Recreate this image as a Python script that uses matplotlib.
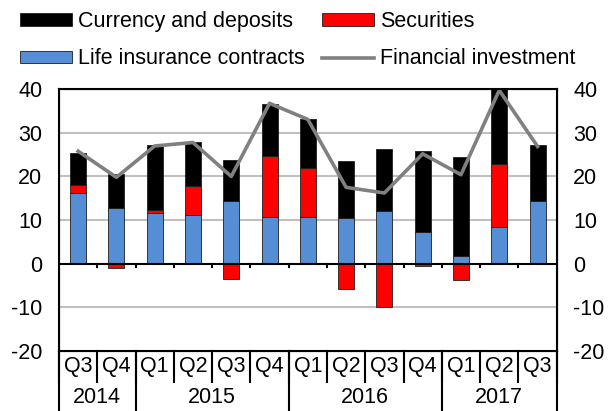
import numpy as np
import matplotlib.pyplot as plt
from matplotlib.patches import Patch
from matplotlib.lines import Line2D
import matplotlib.transforms as mtransforms

plt.rcParams['font.family'] = ['Liberation Sans', 'DejaVu Sans']
plt.rcParams['axes.unicode_minus'] = False

# Data
quarters = ['Q3', 'Q4', 'Q1', 'Q2', 'Q3', 'Q4', 'Q1', 'Q2', 'Q3', 'Q4', 'Q1', 'Q2', 'Q3']
years = ['2014', '2015', '2016', '2017']
year_counts = [2, 4, 4, 3]
life = [16.2, 12.7, 11.7, 11.1, 14.3, 10.8, 10.8, 10.5, 12.0, 7.2, 1.8, 8.5, 14.4]
securities = [1.9, -1.0, 0.6, 6.7, -3.5, 14.0, 11.1, -5.8, -10.0, -0.6, -3.8, 14.4, 0.0]
currency = [7.3, 7.9, 14.9, 10.1, 9.4, 11.9, 11.3, 13.0, 14.3, 18.6, 22.7, 17.3, 12.8]
financial = [25.8, 19.8, 27.0, 27.8, 20.0, 36.8, 33.1, 17.5, 16.2, 25.2, 20.4, 39.8, 26.9]

C_BLUE = '#558ed5'
C_RED = '#ff0000'
C_BLACK = '#000000'
C_GRAY = '#808080'
FS = 15.5

x = np.arange(len(quarters))
life = np.array(life)
securities = np.array(securities)
currency = np.array(currency)

fig = plt.figure(figsize=(6.08, 4.11), dpi=100)
ax = fig.add_axes([0.097, 0.147, 0.8186, 0.6355])

w = 0.42
ax.bar(x, life, w, color=C_BLUE, edgecolor='#1f1f1f', linewidth=0.6, zorder=3)
sec_bottom = np.where(securities > 0, life, 0)
ax.bar(x, securities, w, bottom=sec_bottom, color=C_RED, edgecolor='#1f1f1f', linewidth=0.6, zorder=3)
cur_bottom = life + np.clip(securities, 0, None)
ax.bar(x, currency, w, bottom=cur_bottom, color=C_BLACK, edgecolor='#1f1f1f', linewidth=0.6, zorder=3)
ax.plot(x, financial, color=C_GRAY, linewidth=2.6, zorder=4)

ax.set_xlim(-0.5, len(x) - 0.5)
ax.set_ylim(-20, 40)
ax.set_yticks(range(-20, 41, 10))
for y in (-10, 10, 20, 30):
    ax.axhline(y, color='#c0c0c0', linewidth=1.5, zorder=1)
ax.axhline(0, color='black', linewidth=1.5, zorder=5)
for s in ax.spines.values():
    s.set_linewidth(1.5)
ax.tick_params(axis='y', length=0, labelsize=FS, pad=12)
ax.set_xticks([])

ax2 = ax.twinx()
ax2.set_ylim(-20, 40)
ax2.set_yticks(range(-20, 41, 10))
ax2.tick_params(axis='y', length=0, labelsize=FS, pad=12)
ax2.set_xticks([])

# small ticks below the zero line
trans = mtransforms.blended_transform_factory(ax.transData, ax.transAxes)
for b in np.arange(0.5, len(x) - 0.5, 1.0):
    ax.plot([b, b], [0, -0.8], color='black', linewidth=1.5, zorder=5, clip_on=False)

# category axis labels (two rows)
q_bot = -0.12
y_bot = -0.235
for i, q in enumerate(quarters):
    ax.text(i, -0.062, q, transform=trans, ha='center', va='center', fontsize=FS)
for b in np.arange(-0.5, len(x) + 0.5, 1.0):
    ax.plot([b, b], [0, q_bot], transform=trans, color='black', linewidth=1.5, clip_on=False)
edges = np.concatenate([[0], np.cumsum(year_counts)]) - 0.5
for b in edges:
    ax.plot([b, b], [0, y_bot], transform=trans, color='black', linewidth=1.5, clip_on=False)
for i, yr in enumerate(years):
    mid = (edges[i] + edges[i + 1]) / 2
    ax.text(mid, -0.18, yr, transform=trans, ha='center', va='center', fontsize=FS)

# legend
handles = [
    Patch(facecolor=C_BLACK, edgecolor='#1f1f1f', linewidth=0.6),
    Patch(facecolor=C_BLUE, edgecolor='#1f1f1f', linewidth=0.6),
    Patch(facecolor=C_RED, edgecolor='#1f1f1f', linewidth=0.6),
    Line2D([0], [0], color=C_GRAY, linewidth=2.6),
]
labels = ['Currency and deposits', 'Life insurance contracts', 'Securities', 'Financial investment']
fig.legend(handles, labels, ncol=2, loc='upper left', bbox_to_anchor=(20 / 608, 0.973),
           frameon=False, fontsize=FS, handlelength=2.42, handleheight=0.5,
           handletextpad=0.28, columnspacing=0.8, labelspacing=0.76,
           borderaxespad=0, borderpad=0)

fig.savefig('out.png', dpi=100)
